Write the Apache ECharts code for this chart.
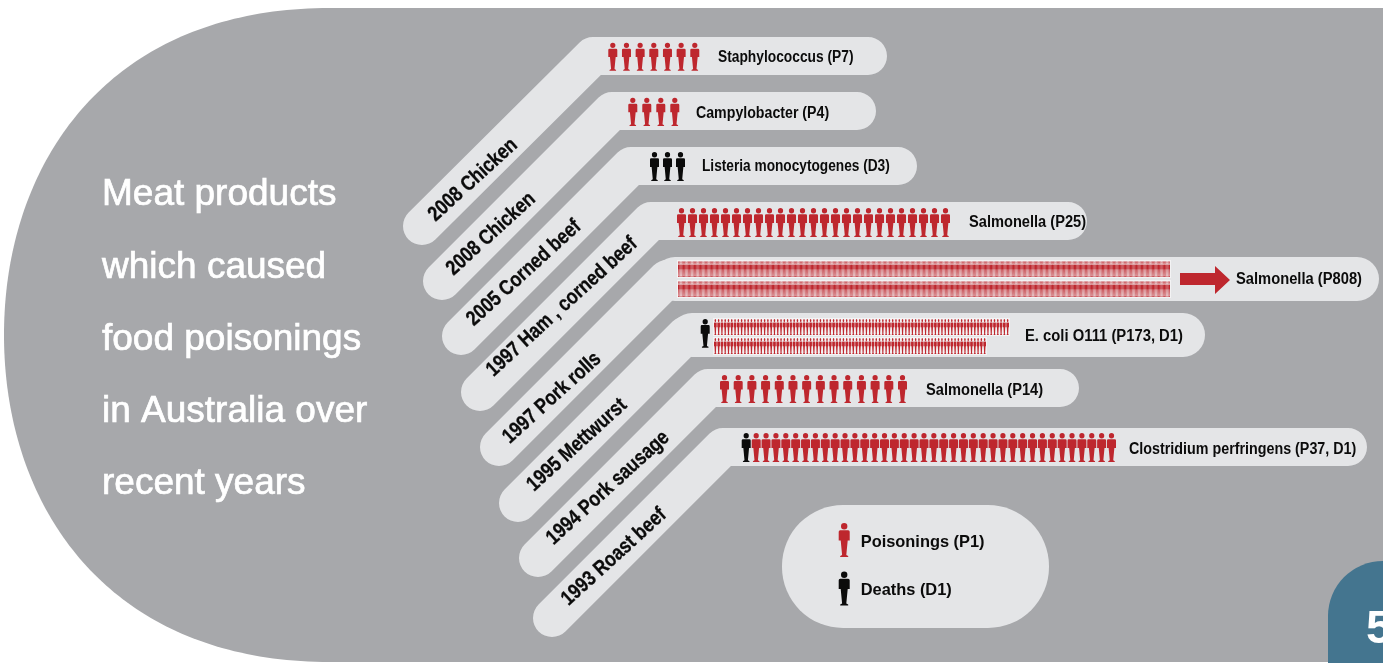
<!DOCTYPE html>
<html><head><meta charset="utf-8">
<style>html,body{margin:0;padding:0;background:#fff}#c{width:1383px;height:663px}</style>
<script src="https://cdn.jsdelivr.net/npm/echarts@6/dist/echarts.min.js"></script>
</head><body><div id="c"></div>
<script>
// ---- data ----
const titleLines = ['Meat products','which caused','food poisonings','in Australia over','recent years'];
const products = ['2008 Chicken','2008 Chicken','2005 Corned beef','1997 Ham , corned beef','1997 Pork rolls','1995 Mettwurst','1994 Pork sausage','1993 Roast beef'];
const agents = ['Staphylococcus (P7)','Campylobacter (P4)','Listeria monocytogenes (D3)','Salmonella (P25)','Salmonella (P808)','E. coli O111 (P173, D1)','Salmonella (P14)','Clostridium perfringens (P37, D1)'];
const poisonings = [7,4,0,25,808,173,14,37];
const deaths = [0,0,3,0,0,1,0,1];
const legendNames = ['Poisonings (P1)','Deaths (D1)'];
const pageNumber = '5';

// ---- layout (pixels) ----
const RED='#be272e', BLACK='#0b0b0b', BAND='#e4e5e7', GREY='#a7a8ab', TEAL='#44758f', HALO='#f3f3f4';
const SANS='"Liberation Sans",sans-serif';
const PERSON='path://M23 32A32 32 0 1 1 87 32A32 32 0 1 1 23 32ZM15 72L95 72Q110 72 110 88L110 175L90 175L76 320L95 330L95 340L15 340L15 330L34 320L20 175L0 175L0 88Q0 72 15 72Z';
const LEGEND_ICON=PERSON+'M55 380L55.01 380L55 379.99Z';
// band: lower-end centre, corner x, y of horizontal, right end centre x, diagonal width, horizontal width
const bands=[[422,226,593,56,868,38,38],[442,281,612,111,857,38,38],[461,336,631,166,898,38,38],[480,392,651,221,1068,38,38],
 [499,447,667,279,1357,38,44],[518,503,686,335,1183,38,44],[538,558,708,388,1060,38,38],[552,618,723,447,1348,38,38]];
const wideStart={4:675,5:692};
const productPos=[[473,180],[491,234],[524,273],[562,307],[552,398],[577,445],[608,488],[614,557]];
const agentPos=[[718,58],[696,113.5],[702,167],[969,223],[1236,280],[1025,337],[926,391],[1129,450]];
const agentScale=[.861,.886,.855,.914,.92,.925,.914,.894];
// lanes: [row, kind, icons in the lane, left, right, top, bottom, icon width]
const split6=[90,83];
const lanes=[
 [0,'P',poisonings[0],608.3,699.3,42.7,70.7,9],
 [1,'P',poisonings[1],628.3,679.3,97.7,126,9],
 [2,'D',deaths[2],650,685,152,181,9],
 [3,'P',poisonings[3],677,950,208,237,9],
 [4,'P',poisonings[4]/2,678,1170,261,277,1.19],
 [4,'P',poisonings[4]/2,678,1170,281,297,1.19],
 [5,'D',deaths[5],700.7,710,319,347.7,9],
 [5,'P',split6[0],714,1009,319,335,2.7],
 [5,'P',split6[1],714,986,338,354,2.7],
 [6,'P',poisonings[6],720,907,375,403,9],
 [7,'D',deaths[7],741.7,750.7,433,462,9],
 [7,'P',poisonings[7],751.7,1116,433,462,9]
];

const grid=[],xAxis=[],yAxis=[],series=[];
lanes.forEach((l,i)=>{
 const [row,kind,n,x0,x1,y0,y1,w]=l;
 grid.push({left:x0,top:y0,width:x1-x0,height:y1-y0,containLabel:false});
 xAxis.push({gridIndex:i,type:'value',min:0,max:n,show:false});
 yAxis.push({gridIndex:i,type:'category',data:[products[row]],show:false});
 series.push({type:'pictorialBar',name:kind==='P'?legendNames[0]:legendNames[1],xAxisIndex:i,yAxisIndex:i,
  symbol:PERSON,symbolRepeat:n,symbolSize:[w,y1-y0],symbolPosition:'start',barWidth:'100%',
  itemStyle:{color:kind==='P'?RED:BLACK},silent:true,data:[n],z:5});
});

function bez(p0,p1,p2,p3,n){const o=[];for(let k=0;k<=n;k++){const t=k/n,u=1-t;
 o.push([u*u*u*p0[0]+3*u*u*t*p1[0]+3*u*t*t*p2[0]+t*t*t*p3[0],u*u*u*p0[1]+3*u*u*t*p1[1]+3*u*t*t*p2[1]+t*t*t*p3[1]]);}return o;}
const bgOutline=[...bez([330,8],[106,8],[4,165],[4,335],90),...bez([4,335],[4,505],[106,662],[330,662],90),[1383,662],[1383,8]];

const graphic=[];
graphic.push({type:'polygon',z:0,shape:{points:bgOutline},style:{fill:GREY}});
bands.forEach((b,i)=>{
 graphic.push({type:'polyline',z:1,shape:{points:[[b[0],b[1]],[b[2],b[3]],[b[4],b[3]]]},
  style:{stroke:BAND,fill:null,lineWidth:b[5],lineCap:'round',lineJoin:'round'}});
 if(b[6]!==b[5]) graphic.push({type:'line',z:1,shape:{x1:wideStart[i],y1:b[3],x2:b[4],y2:b[3]},
  style:{stroke:BAND,lineWidth:b[6],lineCap:'round'}});
});
lanes.forEach(l=>{ if(l[2]>50) graphic.push({type:'rect',z:2,shape:{x:l[3]-1,y:l[5]-1,width:l[4]-l[3]+2,height:l[6]-l[5]+2},style:{fill:HALO}}); });
graphic.push({type:'rect',z:1,shape:{x:782,y:505,width:267,height:123,r:61},style:{fill:BAND}});
graphic.push({type:'rect',z:1,shape:{x:1328,y:561,width:70,height:110,r:[55,0,0,0]},style:{fill:TEAL}});
graphic.push({type:'text',z:3,x:1366,y:630,style:{text:pageNumber,fill:'#fff',font:'bold 47px '+SANS,verticalAlign:'middle'}});
graphic.push({type:'polygon',z:3,shape:{points:[[1180,273],[1215,273],[1215,266],[1230,280],[1215,294],[1215,285],[1180,285]]},style:{fill:RED}});
products.forEach((t,i)=>graphic.push({type:'text',z:6,x:productPos[i][0],y:productPos[i][1],rotation:0.738,scaleX:.835,
 style:{text:t,fill:'#0b0b0b',font:'bold 21px '+SANS,align:'center',verticalAlign:'middle',stroke:'#0b0b0b',lineWidth:0.3}}));
agents.forEach((t,i)=>graphic.push({type:'text',z:6,x:agentPos[i][0],y:agentPos[i][1],scaleX:agentScale[i],
 style:{text:t,fill:'#0b0b0b',font:'bold 16px '+SANS,align:'left',verticalAlign:'middle'}}));

const chart=echarts.init(document.getElementById('c'),null,{renderer:'canvas'});
chart.setOption({
 animation:false,backgroundColor:'#fff',
 title:{text:titleLines.join('\n'),left:102,top:159,padding:0,textStyle:{color:'#fff',fontFamily:SANS,fontWeight:'normal',fontSize:37,lineHeight:72.2,textBorderColor:'#fff',textBorderWidth:0.7}},
 legend:{orient:'vertical',left:838.7,top:523,padding:0,itemWidth:11,itemHeight:38,itemGap:10.5,icon:LEGEND_ICON,selectedMode:false,
  data:legendNames,textStyle:{color:'#0b0b0b',fontFamily:SANS,fontWeight:'bold',fontSize:16.4,padding:[0,0,0,6]},itemStyle:{borderWidth:0}},
 grid,xAxis,yAxis,series,graphic
});
</script></body></html>
